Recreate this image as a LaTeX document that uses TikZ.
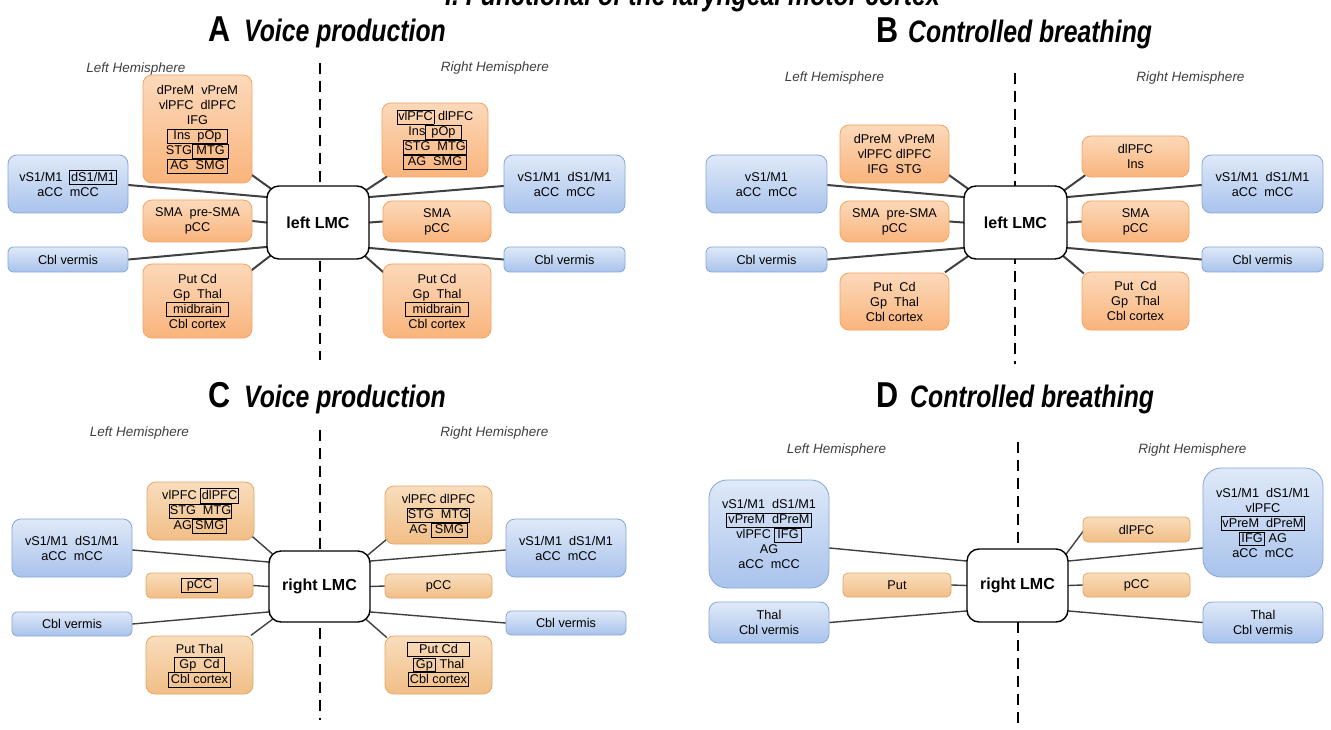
\documentclass[tikz,border=0pt]{standalone}
\usepackage{fontspec}
\setmainfont{Liberation Sans}
\usepackage{graphicx}
\usetikzlibrary{backgrounds}

\definecolor{orgtop}{HTML}{FCD9BA}
\definecolor{orgbot}{HTML}{F9B47C}
\definecolor{orgline}{HTML}{F5A462}
\definecolor{tantop}{HTML}{F9DDBC}
\definecolor{tanbot}{HTML}{F1BE86}
\definecolor{tanline}{HTML}{E3A868}
\definecolor{blutop}{HTML}{DFE9F8}
\definecolor{blubot}{HTML}{A9C3EC}
\definecolor{bluline}{HTML}{86A7D8}

% framed sub-group of regions inside a box
\newcommand{\fr}[1]{{\setlength{\fboxsep}{0.8pt}\setlength{\fboxrule}{0.8pt}\raisebox{0pt}[9pt][3pt]{\fbox{\vphantom{Ag}#1}}}}
\newcommand{\frw}[2]{\fr{\makebox[#1]{#2}}}

\begin{document}
\begin{tikzpicture}[
  x=1pt, y=-1pt,
  wh/.style 2 args={minimum width=#1pt, minimum height=#2pt},
  % region boxes
  region/.style={
    rectangle,
    draw=#1line,
    top color=#1top,
    bottom color=#1bot,
    line width=0.8pt,
    rounded corners=9pt,
    align=center,
    inner sep=0pt,
    font=\fontsize{12.7}{15}\selectfont
  },
  obox/.style={region=org},
  tbox/.style={region=tan},
  bbox/.style={region=blu},
  lmc/.style={
    rectangle,
    draw=black,
    line width=1.4pt,
    fill=white,
    rounded corners=12pt,
    inner sep=0pt,
    font=\fontsize{16}{16}\selectfont\bfseries
  },
  % connectors
  link/.style={draw=black!75, line width=2pt, shorten <=-3pt, shorten >=-3pt},
  thinlink/.style={link, line width=1.4pt},
  divider/.style={draw=black, line width=2pt, dash pattern=on 11pt off 7pt},
  % texts
  hemi/.style={font=\fontsize{13.5}{14}\selectfont\itshape, text=black!75},
  letter/.style={anchor=base west, inner sep=0pt, font=\fontsize{36}{36}\selectfont\bfseries},
  ttl/.style={anchor=base west, inner sep=0pt, font=\fontsize{31}{31}\selectfont\bfseries\itshape}
]
\useasboundingbox (0,0) rectangle (1331,730);

\node[anchor=base east, inner sep=0pt, font=\fontsize{31}{31}\selectfont\bfseries\itshape] (top) at (940,6)
  {\scalebox{0.8}[1]{I. Functional of the laryngeal motor cortex}};

% === PANEL A ===
\node[letter] (letA) at (208,42) {\scalebox{0.85}[1]{A}};
\node[ttl] (ttlA) at (244,42) {\scalebox{0.8}[1]{Voice production}};
\node[hemi] (hLA) at (136,69) {Left Hemisphere};
\node[hemi] (hRA) at (495,68) {Right Hemisphere};

\node[lmc, wh={102}{73}] (lmcA) at (318,222.5) {left LMC};

\node[obox, wh={109}{108}] (aLtop) at (197.5,129) {dPreM~~vPreM\\vlPFC~~dlPFC\\IFG\\\frw{58pt}{Ins~~pOp}\\STG\frw{34pt}{MTG}\\\frw{58pt}{AG~~SMG}};
\node[bbox, wh={120}{58}] (aLs1) at (68,184) {vS1/M1~~\frw{44pt}{dS1/M1}\\aCC~~mCC};
\node[obox, wh={109}{42}] (aLsma) at (197.5,221) {SMA~~pre-SMA\\pCC};
\node[bbox, wh={120}{25}, rounded corners=5pt] (aLcbl) at (68,259.5) {Cbl vermis};
\node[obox, wh={109}{74}] (aLput) at (197.5,301) {Put Cd\\Gp~~Thal\\\frw{60pt}{midbrain}\\Cbl cortex};

\node[obox, wh={106}{74}] (aRtop) at (435,140) {\fr{vlPFC} dlPFC\\Ins\frw{33pt}{pOp}\\\frw{60pt}{STG~~MTG}\\\frw{60pt}{AG~~SMG}};
\node[bbox, wh={121}{58}] (aRs1) at (564.5,184) {vS1/M1~~dS1/M1\\aCC~~mCC};
\node[obox, wh={108}{41}] (aRsma) at (437,221.5) {SMA\\pCC};
\node[bbox, wh={121}{25}, rounded corners=5pt] (aRcbl) at (564.5,259.5) {Cbl vermis};
\node[obox, wh={108}{74}] (aRput) at (437,301) {Put Cd\\Gp~~Thal\\\frw{60pt}{midbrain}\\Cbl cortex};

% === PANEL B ===
\node[letter] (letB) at (876,43) {\scalebox{0.85}[1]{B}};
\node[ttl] (ttlB) at (908,43) {\scalebox{0.8}[1]{Controlled breathing}};
\node[hemi] (hLB) at (834.5,78) {Left Hemisphere};
\node[hemi] (hRB) at (1190.5,78) {Right Hemisphere};

\node[lmc, wh={103}{73}] (lmcB) at (1015.5,222.5) {left LMC};

\node[bbox, wh={121}{58}] (bLs1) at (766.5,184) {vS1/M1\\aCC~~mCC};
\node[obox, wh={109}{58}] (bLtop) at (894.5,154) {dPreM~~vPreM\\vlPFC dlPFC\\IFG~~STG};
\node[obox, wh={109}{41}] (bLsma) at (894.5,221.5) {SMA~~pre-SMA\\pCC};
\node[bbox, wh={121}{25}, rounded corners=5pt] (bLcbl) at (766.5,259.5) {Cbl vermis};
\node[obox, wh={109}{57}] (bLput) at (894.5,301.5) {Put~~Cd\\Gp~~Thal\\Cbl cortex};

\node[obox, wh={107}{41}] (bRtop) at (1135.5,156.5) {dlPFC\\Ins};
\node[bbox, wh={121}{58}] (bRs1) at (1262.5,184) {vS1/M1~~dS1/M1\\aCC~~mCC};
\node[obox, wh={107}{41}] (bRsma) at (1135.5,221.5) {SMA\\pCC};
\node[bbox, wh={121}{25}, rounded corners=5pt] (bRcbl) at (1262.5,259.5) {Cbl vermis};
\node[obox, wh={107}{58}] (bRput) at (1135.5,301) {Put~~Cd\\Gp~~Thal\\Cbl cortex};

% === PANEL C ===
\node[letter] (letC) at (208,407) {\scalebox{0.85}[1]{C}};
\node[ttl] (ttlC) at (244,407) {\scalebox{0.8}[1]{Voice production}};
\node[hemi] (hLC) at (139.5,433) {Left Hemisphere};
\node[hemi] (hRC) at (494.5,433) {Right Hemisphere};

\node[lmc, wh={101}{71}] (lmcC) at (319.5,586.5) {right LMC};

\node[tbox, wh={107}{58}] (cLtop) at (200.5,511) {vlPFC \fr{dlPFC}\\\frw{60pt}{STG~~MTG}\\AG\frw{32pt}{SMG}};
\node[bbox, wh={120}{58}] (cLs1) at (72,548) {vS1/M1~~dS1/M1\\aCC~~mCC};
\node[tbox, wh={107}{25}, rounded corners=5pt] (cLpcc) at (199.5,585.5) {\frw{34pt}{pCC}};
\node[bbox, wh={120}{24}, rounded corners=5pt] (cLcbl) at (72,624) {Cbl vermis};
\node[tbox, wh={107}{58}] (cLput) at (199.5,665) {Put Thal\\\frw{48pt}{Gp~~Cd}\\\frw{60pt}{Cbl cortex}};

\node[tbox, wh={107}{58}] (cRtop) at (438.5,515) {vlPFC dlPFC\\\frw{60pt}{STG~~MTG}\\AG \frw{33pt}{SMG}};
\node[bbox, wh={120}{58}] (cRs1) at (566,548) {vS1/M1~~dS1/M1\\aCC~~mCC};
\node[tbox, wh={107}{24}, rounded corners=5pt] (cRpcc) at (438.5,586) {pCC};
\node[bbox, wh={120}{24}, rounded corners=5pt] (cRcbl) at (566,623) {Cbl vermis};
\node[tbox, wh={107}{58}] (cRput) at (438.5,665) {\frw{60pt}{Put Cd}\\\frw{20pt}{Gp} Thal\\\frw{58pt}{Cbl cortex}};

% === PANEL D ===
\node[letter] (letD) at (876,407) {\scalebox{0.85}[1]{D}};
\node[ttl] (ttlD) at (910,407) {\scalebox{0.8}[1]{Controlled breathing}};
\node[hemi] (hLD) at (836.5,450) {Left Hemisphere};
\node[hemi] (hRD) at (1192.5,450) {Right Hemisphere};

\node[lmc, wh={101}{73}] (lmcD) at (1017.5,585.5) {right LMC};

\node[bbox, wh={120}{108}, rounded corners=18pt] (dLs1) at (769,534) {vS1/M1~~dS1/M1\\\frw{82pt}{vPreM~~dPreM}\\vlPFC \frw{24pt}{IFG}\\AG\\aCC~~mCC};
\node[tbox, wh={108}{24}, rounded corners=5pt] (dLput) at (897,585) {Put};
\node[bbox, wh={120}{41}] (dLthal) at (769,622.5) {Thal\\Cbl vermis};

\node[tbox, wh={107}{25}, rounded corners=5pt] (dRdl) at (1136.5,529.5) {dlPFC};
\node[bbox, wh={120}{109}, rounded corners=18pt] (dRs1) at (1263,522.5) {vS1/M1~~dS1/M1\\vlPFC\\\frw{81pt}{vPreM~~dPreM}\\\frw{23pt}{IFG} AG\\aCC~~mCC};
\node[tbox, wh={107}{24}, rounded corners=5pt] (dRpcc) at (1136.5,585) {pCC};
\node[bbox, wh={120}{41}] (dRthal) at (1263,622.5) {Thal\\Cbl vermis};

% === CONNECTORS (behind the boxes) ===
\begin{scope}[on background layer]
  \fill[white] (0,0) rectangle (1331,730);

  % panel A
  \draw[divider] (320,63) -- (320,360);
  \draw[link] ([yshift=8pt]aLtop.south east) -- ([xshift=9pt,yshift=-6.5pt]lmcA.north west);
  \draw[link] ([yshift=-1pt]aLs1.east) -- ([yshift=25.5pt]lmcA.west);
  \draw[link] (aLsma.east) -- (lmcA.west);
  \draw[link] (aLcbl.east) -- ([yshift=-24.5pt]lmcA.west);
  \draw[link] ([yshift=-6pt]aLput.north east) -- ([xshift=8pt,yshift=7pt]lmcA.south west);
  \draw[link] ([xshift=13pt,yshift=6pt]aRtop.south west) -- ([xshift=-9pt,yshift=-8.5pt]lmcA.north east);
  \draw[link] ([yshift=-2pt]aRs1.west) -- ([yshift=25.5pt]lmcA.east);
  \draw[link] (aRsma.west) -- (lmcA.east);
  \draw[link] (aRcbl.west) -- ([yshift=-25.5pt]lmcA.east);
  \draw[link] ([yshift=-8pt]aRput.north west) -- ([xshift=-9pt,yshift=7.5pt]lmcA.south east);

  % panel B
  \draw[divider] (1015,73) -- (1015,364);
  \draw[link] ([yshift=8pt]bLtop.south east) -- ([xshift=9pt,yshift=-6.5pt]lmcB.north west);
  \draw[link] ([yshift=-1pt]bLs1.east) -- ([yshift=25.5pt]lmcB.west);
  \draw[link] (bLsma.east) -- (lmcB.west);
  \draw[link] (bLcbl.east) -- ([yshift=-25.5pt]lmcB.west);
  \draw[link] ([xshift=-2pt,yshift=2pt]bLput.north east) -- ([xshift=9pt,yshift=6.5pt]lmcB.south west);
  \draw[link] ([xshift=2pt,yshift=1pt]bRtop.south west) -- ([xshift=-9pt,yshift=-9pt]lmcB.north east);
  \draw[link] ([yshift=-1pt]bRs1.west) -- ([yshift=25.5pt]lmcB.east);
  \draw[link] (bRsma.west) -- (lmcB.east);
  \draw[link] (bRcbl.west) -- ([yshift=-25.5pt]lmcB.east);
  \draw[link] (bRput.north west) -- ([xshift=-9pt,yshift=7.5pt]lmcB.south east);

  % panel C
  \draw[divider] (320,430) -- (320,720);
  \draw[thinlink] ([xshift=-1pt,yshift=3pt]cLtop.south east) -- ([xshift=8pt,yshift=-7pt]lmcC.north west);
  \draw[thinlink] ([yshift=-2pt]cLs1.east) -- ([yshift=24.5pt]lmcC.west);
  \draw[thinlink] (cLpcc.east) -- (lmcC.west);
  \draw[thinlink] (cLcbl.east) -- ([yshift=-25.5pt]lmcC.west);
  \draw[thinlink] ([yshift=2pt]cLput.north east) -- ([xshift=7pt,yshift=5.5pt]lmcC.south west);
  \draw[thinlink] ([xshift=2pt,yshift=5pt]cRtop.south west) -- ([xshift=-8pt,yshift=-9pt]lmcC.north east);
  \draw[thinlink] ([yshift=-2pt]cRs1.west) -- ([yshift=25.5pt]lmcC.east);
  \draw[thinlink] (cRpcc.west) -- (lmcC.east);
  \draw[thinlink] (cRcbl.west) -- ([yshift=-25.5pt]lmcC.east);
  \draw[thinlink] (cRput.north west) -- ([xshift=-10pt,yshift=8pt]lmcC.south east);

  % panel D
  \draw[divider] (1018,442) -- (1018,730);
  \draw[thinlink] ([yshift=-14pt]dLs1.east) -- ([yshift=24.5pt]lmcD.west);
  \draw[thinlink] (dLput.east) -- (lmcD.west);
  \draw[thinlink] (dLthal.east) -- ([yshift=-25.5pt]lmcD.west);
  \draw[thinlink] ([yshift=-2.5pt]dRdl.west) -- ([xshift=-9pt,yshift=-14.5pt]lmcD.north east);
  \draw[thinlink] ([yshift=-25.5pt]dRs1.west) -- ([yshift=24.5pt]lmcD.east);
  \draw[thinlink] (dRpcc.west) -- (lmcD.east);
  \draw[thinlink] (dRthal.west) -- ([yshift=-25.5pt]lmcD.east);
\end{scope}

\end{tikzpicture}
\end{document}
